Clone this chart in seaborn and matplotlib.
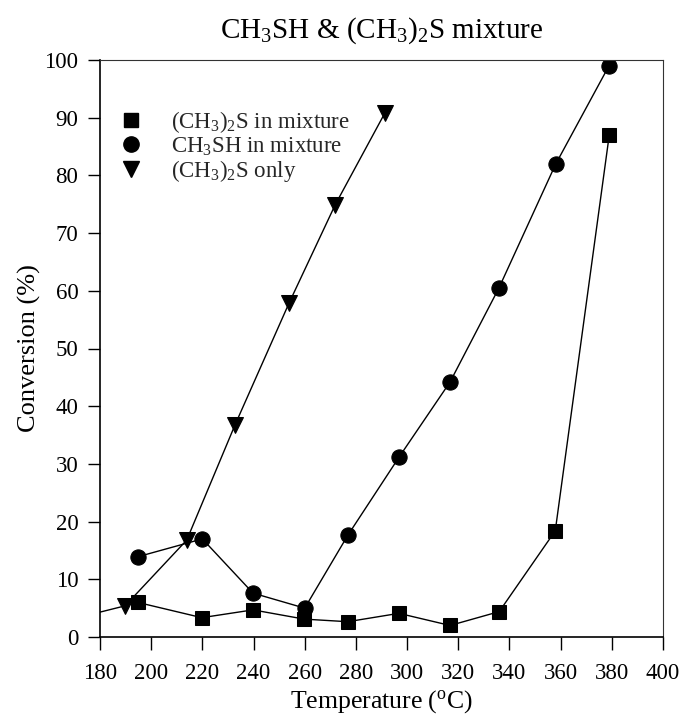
import matplotlib
matplotlib.use("Agg")
import matplotlib.pyplot as plt
from matplotlib.lines import Line2D
import seaborn as sns
import pandas as pd

# Data
sq_T = [194.7, 219.8, 239.8, 259.8, 276.8, 296.8, 316.8, 336.0, 357.9, 379.0]
sq_v = [6.0, 3.35, 4.7, 3.1, 2.65, 4.1, 2.0, 4.4, 18.4, 87.0]

ci_T = [194.7, 220.0, 239.8, 260.0, 276.8, 296.9, 316.8, 335.9, 358.0, 378.9]
ci_v = [13.9, 17.0, 7.6, 5.0, 17.6, 31.2, 44.2, 60.5, 81.9, 99.0]

tr_T = [170.0, 189.8, 213.9, 232.7, 253.9, 271.9, 291.3]
tr_v = [3.2, 5.4, 16.8, 36.7, 57.9, 74.9, 90.8]

labels = [r"(CH$_3$)$_2$S in mixture", r"CH$_3$SH in mixture", r"(CH$_3$)$_2$S only"]
x_ticks = list(range(180, 401, 20))
y_ticks = list(range(0, 101, 10))

sns.set_theme(style="white")
plt.rcParams["font.family"] = ["Liberation Serif", "DejaVu Serif"]
plt.rcParams["mathtext.fontset"] = "custom"
plt.rcParams["mathtext.rm"] = "Liberation Serif"
plt.rcParams["mathtext.it"] = "Liberation Serif:italic"
plt.rcParams["mathtext.bf"] = "Liberation Serif:bold"

fig = plt.figure(figsize=(6.81, 7.16), dpi=100)
ax = fig.add_axes([100/681, 79/716, 563/681, 577/716])

series = [
    (sq_T, sq_v, "s", 10),
    (ci_T, ci_v, "o", 11),
    (tr_T, tr_v, "v", 11.5),
]
for (T, v, m, ms), lab in zip(series, labels):
    df = pd.DataFrame({"T": T, "v": v})
    sns.lineplot(data=df, x="T", y="v", ax=ax, color="black", linewidth=1.0,
                 marker=m, markersize=ms, markeredgecolor="black",
                 markerfacecolor="black", sort=False, estimator=None, legend=False)

ax.set_xlim(180, 400)
ax.set_ylim(0, 100)
ax.set_xticks(x_ticks)
ax.set_yticks(y_ticks)
ax.tick_params(axis="both", which="major", labelsize=16.5, direction="out",
               length=9, width=1, color="black", labelcolor="black")
ax.tick_params(axis="x", pad=10)
ax.tick_params(axis="y", pad=6.5)
ax.tick_params(top=False, right=False, bottom=True, left=True)
for side in ["left", "bottom"]:
    ax.spines[side].set_linewidth(1.2)
    ax.spines[side].set_color("black")
for side in ["top", "right"]:
    ax.spines[side].set_linewidth(0.8)
    ax.spines[side].set_color("#333333")

ax.set_xlabel(r"Temperature ($^{\mathrm{o}}$C)", fontsize=18.5, color="black", va="baseline")
ax.set_ylabel("Conversion (%)", fontsize=19, color="black", va="center")
ax.xaxis.set_label_coords(0.5, (637 - 708) / 577)
ax.yaxis.set_label_coords((29 - 100) / 563, 0.5)
ax.set_title(r"CH$_3$SH & (CH$_3$)$_2$S mixture", fontsize=21, color="black", pad=16)

handles = [Line2D([], [], marker=m, ls="none", color="black", markersize=ms)
           for (_, _, m, ms) in series]
ax.legend(handles, labels, loc="upper left", bbox_to_anchor=(-0.012, 0.95),
          frameon=False, fontsize=16.5, handletextpad=1.0, labelspacing=0.0,
          borderaxespad=0.5, handlelength=1.5)

fig.savefig("out.png", dpi=100)
